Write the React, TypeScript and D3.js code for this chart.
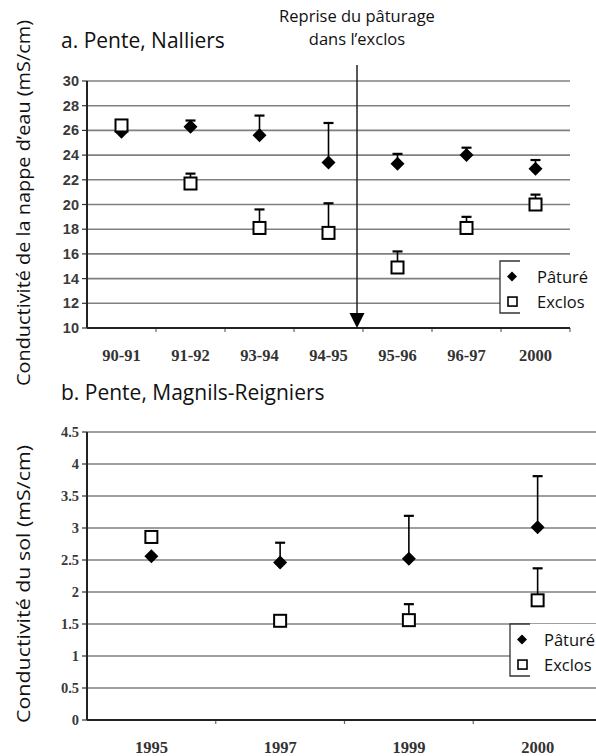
import React from "react";
import * as d3 from "d3";

// panel a : Nalliers, conductivité de la nappe
const periodsA = ["90-91", "91-92", "93-94", "94-95", "95-96", "96-97", "2000"];
const patureA = [25.9, 26.3, 25.6, 23.4, 23.3, 24.0, 22.9];
const patureErrA = [0, 0.5, 1.6, 3.2, 0.8, 0.6, 0.7];
const exclosA = [26.4, 21.7, 18.1, 17.7, 14.9, 18.1, 20.0];
const exclosErrA = [0, 0.8, 1.5, 2.4, 1.3, 0.9, 0.8];
const ticksA = [10, 12, 14, 16, 18, 20, 22, 24, 26, 28, 30];

// panel b : Magnils-Reigniers, conductivité du sol
const yearsB = ["1995", "1997", "1999", "2000"];
const patureB = [2.56, 2.46, 2.52, 3.01];
const patureErrB = [0, 0.31, 0.67, 0.8];
const exclosB = [2.86, 1.55, 1.56, 1.87];
const exclosErrB = [0, 0, 0.25, 0.5];
const ticksB = [0, 0.5, 1, 1.5, 2, 2.5, 3, 3.5, 4, 4.5];

const sans = "'Open Sans', 'Noto Sans', sans-serif";
const serif = "'Liberation Serif', 'DejaVu Serif', serif";

const diamond = (cx: number, cy: number, r: number) =>
  `M${cx},${cy - r}L${cx + r},${cy}L${cx},${cy + r}L${cx - r},${cy}Z`;

const Marks = ({ cats, vals, errs, x, y, kind }: any) => (
  <g>
    {cats.map((c: string, i: number) => {
      const cx = x(c) + x.bandwidth() / 2;
      const cy = y(vals[i]);
      const top = y(vals[i] + errs[i]);
      return (
        <g key={c}>
          {errs[i] > 0 && (
            <g stroke="#000" strokeWidth={1.6}>
              <line x1={cx} x2={cx} y1={cy} y2={top} />
              <line x1={cx - 5} x2={cx + 5} y1={top} y2={top} strokeWidth={2.2} />
            </g>
          )}
          {kind === "d" ? (
            <path d={diamond(cx, cy, 7)} fill="#000" />
          ) : (
            <rect x={cx - 6} y={cy - 6} width={12} height={12} fill="#fff" stroke="#000" strokeWidth={2} />
          )}
        </g>
      );
    })}
  </g>
);

const Legend = ({ x0, y0, y1, tx }: any) => {
  const mid1 = y0 + (y1 - y0) * 0.3;
  const mid2 = y0 + (y1 - y0) * 0.78;
  return (
    <g>
      <rect x={x0} y={y0} width={120} height={y1 - y0} fill="#fff" />
      <path d={`M${x0 + 20},${y0}H${x0}V${y1}H${x0 + 20}`} fill="none" stroke="#333" strokeWidth={1.3} />
      <path d={diamond(x0 + 12, mid1, 5)} fill="#000" />
      <rect x={x0 + 8} y={mid2 - 4.5} width={9} height={9} fill="#fff" stroke="#000" strokeWidth={1.6} />
      <text x={tx} y={mid1 + 6} fontFamily={sans} fontSize={16.5} fill="#111">Pâturé</text>
      <text x={tx} y={mid2 + 6} fontFamily={sans} fontSize={16.5} fill="#111">Exclos</text>
    </g>
  );
};

const Panel = ({ cats, xr, yDomain, yRange, ticks, tickFmt, tickFont, tickWeight, gridEnd, children }: any) => {
  const x = d3.scaleBand().domain(cats).range(xr);
  const y = d3.scaleLinear().domain(yDomain).range(yRange);
  const x0 = xr[0];
  const bounds = cats.map((c: string) => x(c)!).slice(1);
  return (
    <g>
      {ticks.slice(1).map((t: number) => (
        <line key={t} x1={x0} x2={gridEnd} y1={y(t)} y2={y(t)} stroke="#808080" strokeWidth={1.6} />
      ))}
      {ticks.map((t: number) => (
        <g key={"t" + t}>
          <line x1={x0 - 5} x2={x0} y1={y(t)} y2={y(t)} stroke="#333" strokeWidth={1.2} />
          <text x={x0 - 8} y={y(t) + 5} textAnchor="end" fontFamily={tickFont} fontWeight={tickWeight}
            fontSize={14.5} fill="#3a3a3a">{tickFmt(t)}</text>
        </g>
      ))}
      {bounds.concat(xr[1] < 596 ? [xr[1]] : []).map((b: number) => (
        <line key={"b" + b} x1={b} x2={b} y1={y(yDomain[0])} y2={y(yDomain[0]) + 4} stroke="#666" strokeWidth={1.2} />
      ))}
      <line x1={x0} x2={Math.min(xr[1], 596)} y1={y(yDomain[0])} y2={y(yDomain[0])} stroke="#222" strokeWidth={2.2} />
      <line x1={x0} x2={x0} y1={y(yDomain[1])} y2={y(yDomain[0])} stroke="#222" strokeWidth={2} />
      {cats.map((c: string) => (
        <text key={"l" + c} x={x(c)! + x.bandwidth() / 2} y={y(yDomain[0]) + 33} textAnchor="middle"
          fontFamily={serif} fontWeight="bold" fontSize={16.5} fill="#333">{c}</text>
      ))}
      {children(x, y)}
    </g>
  );
};

export default function App() {
  return (
    <svg width={596} height={756} style={{ position: "absolute", left: 0, top: 0, background: "#fff" }}>
      <rect width={596} height={756} fill="#fff" />

      {/* panel a */}
      <text x={61} y={48} fontFamily={sans} fontSize={21} fill="#111">a. Pente, Nalliers</text>
      <text transform="translate(30,203) rotate(-90)" textAnchor="middle" fontFamily={sans} fontSize={18.5}
        textLength={366} lengthAdjust="spacingAndGlyphs" fill="#111">
        Conductivité de la nappe d’eau (mS/cm)
      </text>
      <Panel cats={periodsA} xr={[87, 570]} yDomain={[10, 30]} yRange={[328, 81]} ticks={ticksA}
        tickFmt={(t: number) => String(t)} tickFont="'Liberation Sans', Arial, sans-serif" tickWeight="bold" gridEnd={570}>
        {(x: any, y: any) => {
          const vx = x("95-96") - 6;
          return (
            <g>
              <Legend x0={500} y0={261} y1={313} tx={537} />
              <line x1={vx} x2={vx} y1={65} y2={314} stroke="#222" strokeWidth={1.5} />
              <path d={`M${vx - 7.5},${313}L${vx + 7.5},${313}L${vx},${328}Z`} fill="#000" />
              <text x={vx} y={22} textAnchor="middle" fontFamily={sans} fontSize={16.5} fill="#111">Reprise du pâturage</text>
              <text x={vx} y={45} textAnchor="middle" fontFamily={sans} fontSize={16.5} fill="#111">dans l’exclos</text>
              <Marks cats={periodsA} vals={patureA} errs={patureErrA} x={x} y={y} kind="d" />
              <Marks cats={periodsA} vals={exclosA} errs={exclosErrA} x={x} y={y} kind="s" />
            </g>
          );
        }}
      </Panel>

      {/* panel b */}
      <text x={61} y={400} fontFamily={sans} fontSize={21} fill="#111">b. Pente, Magnils-Reigniers</text>
      <text transform="translate(30,584) rotate(-90)" textAnchor="middle" fontFamily={sans} fontSize={18.5}
        textLength={278} lengthAdjust="spacingAndGlyphs" fill="#111">
        Conductivité du sol (mS/cm)
      </text>
      <Panel cats={yearsB} xr={[87, 602]} yDomain={[0, 4.5]} yRange={[720, 432]} ticks={ticksB}
        tickFmt={(t: number) => String(t)} tickFont={serif} tickWeight="bold" gridEnd={596}>
        {(x: any, y: any) => (
          <g>
            <Marks cats={yearsB} vals={patureB} errs={patureErrB} x={x} y={y} kind="d" />
            <Marks cats={yearsB} vals={exclosB} errs={exclosErrB} x={x} y={y} kind="s" />
            <Legend x0={510} y0={624} y1={676} tx={544} />
          </g>
        )}
      </Panel>
    </svg>
  );
}
